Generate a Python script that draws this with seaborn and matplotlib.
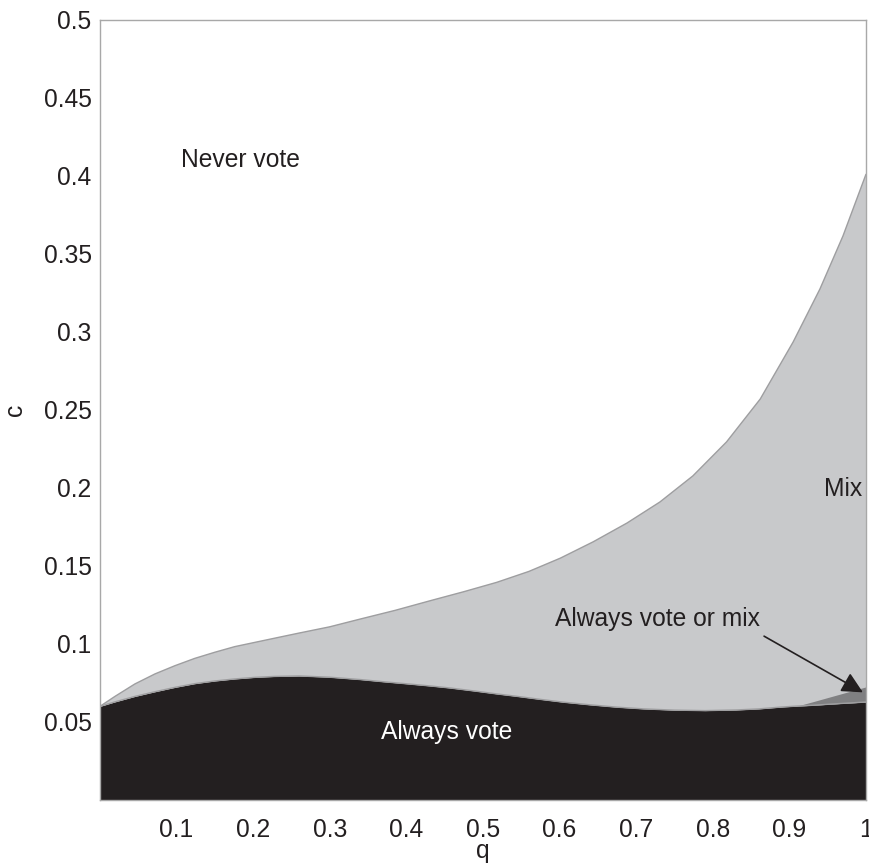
import numpy as np
import pandas as pd
import matplotlib
matplotlib.use("Agg")
import matplotlib.pyplot as plt
import seaborn as sns

# upper boundary of the "Mix" region
mix_q = [0.0, 0.0196, 0.0457, 0.0718, 0.098, 0.124, 0.150, 0.176, 0.202, 0.228,
         0.26, 0.30, 0.34, 0.385, 0.431, 0.475, 0.518, 0.56, 0.601, 0.644,
         0.688, 0.731, 0.774, 0.818, 0.862, 0.905, 0.940, 0.970, 1.0]
mix_c = [0.060, 0.0664, 0.0744, 0.0808, 0.0861, 0.0908, 0.0947, 0.0983, 0.1010, 0.1037,
         0.107, 0.111, 0.116, 0.1215, 0.1277, 0.1335, 0.1395, 0.1465, 0.155, 0.1655,
         0.1775, 0.191, 0.2077, 0.2295, 0.257, 0.2936, 0.3276, 0.3615, 0.401]

# upper boundary of the "Always vote" region
vote_q = [0.0, 0.0196, 0.0457, 0.0718, 0.098, 0.124, 0.150, 0.176, 0.202, 0.228,
          0.26, 0.30, 0.34, 0.37, 0.40, 0.431, 0.457, 0.49, 0.518, 0.545,
          0.575, 0.605, 0.64, 0.675, 0.71, 0.75, 0.79, 0.83, 0.86, 0.89,
          0.91, 0.93, 0.965, 1.0]
vote_c = [0.060, 0.0629, 0.0664, 0.0694, 0.0722, 0.0746, 0.0763, 0.0776, 0.0786, 0.0792,
          0.0795, 0.0787, 0.0772, 0.0758, 0.0745, 0.0731, 0.0718, 0.0698, 0.0680, 0.0664,
          0.0645, 0.0627, 0.0610, 0.0595, 0.0584, 0.0576, 0.0573, 0.0577, 0.0584, 0.0596,
          0.0602, 0.0607, 0.0618, 0.0628]

# small "Always vote or mix" wedge at the right edge
wedge_q = [0.91, 0.93, 0.965, 1.0]
wedge_low = [0.0602, 0.0607, 0.0618, 0.0628]
wedge_high = [0.0602, 0.0629, 0.0677, 0.0725]

x_ticks = [0.1, 0.2, 0.3, 0.4, 0.5, 0.6, 0.7, 0.8, 0.9, 1]
x_tick_labels = ["0.1", "0.2", "0.3", "0.4", "0.5", "0.6", "0.7", "0.8", "0.9", "1"]
y_ticks = [0.05, 0.1, 0.15, 0.2, 0.25, 0.3, 0.35, 0.4, 0.45, 0.5]
y_tick_labels = ["0.05", "0.1", "0.15", "0.2", "0.25", "0.3", "0.35", "0.4", "0.45", "0.5"]

sns.set_style("white")
plt.rcParams['font.family'] = ['Liberation Sans', 'DejaVu Sans']

mix_df = pd.DataFrame({'q': mix_q, 'c': mix_c})
vote_df = pd.DataFrame({'q': vote_q, 'c': vote_c})

fig = plt.figure(figsize=(8.69, 8.63), dpi=100)
ax = fig.add_axes([0.115, 0.073, 0.8815, 0.904])

light = '#c8c9cb'
dark = '#231f20'
edge = '#9e9ea0'
fs = 17.7

# mix region: polygon between the two boundaries, closed along q = 1
mix_poly_q = list(mix_df['q']) + list(vote_df['q'][::-1])
mix_poly_c = list(mix_df['c']) + list(vote_df['c'][::-1])
ax.fill(mix_poly_q, mix_poly_c, color=light, lw=0)
ax.fill_between(vote_df['q'], 0, vote_df['c'], color=dark, lw=0)
ax.fill_between(wedge_q, wedge_low, wedge_high, color='#808082', lw=0)
sns.lineplot(data=mix_df, x='q', y='c', ax=ax, color=edge, lw=1, sort=False)
sns.lineplot(data=vote_df, x='q', y='c', ax=ax, color=edge, lw=1, sort=False)

ax.set_xlim(0, 1)
ax.set_ylim(0, 0.5)
ax.set_xticks(x_ticks)
ax.set_xticklabels(x_tick_labels)
ax.set_yticks(y_ticks)
ax.set_yticklabels(y_tick_labels)
ax.tick_params(axis='both', length=0, labelsize=fs, colors='#231f20')
ax.tick_params(axis='x', pad=13)
ax.tick_params(axis='y', pad=6)
ax.set_xlabel('q', fontsize=fs, color='#231f20', labelpad=-2)
ax.set_ylabel('c', fontsize=fs, color='#231f20', labelpad=12)

for s in ax.spines.values():
    s.set_color('#a8a8a8')
    s.set_linewidth(1)

ax.text(0.106, 0.41, 'Never vote', fontsize=fs, color='#231f20', ha='left', va='center')
ax.text(0.995, 0.1994, 'Mix', fontsize=fs, color='#231f20', ha='right', va='center')
ax.text(0.452, 0.0436, 'Always vote', fontsize=fs, color='white', ha='center', va='center')
ax.text(0.594, 0.116, 'Always vote or mix', fontsize=fs, color='#231f20', ha='left', va='center')
ax.annotate('', xy=(0.996, 0.069), xytext=(0.867, 0.105),
            arrowprops=dict(arrowstyle='-|>', color=dark, lw=1.2, mutation_scale=32,
                            shrinkA=0, shrinkB=0))

plt.savefig('out.png', dpi=100)
plt.close()
